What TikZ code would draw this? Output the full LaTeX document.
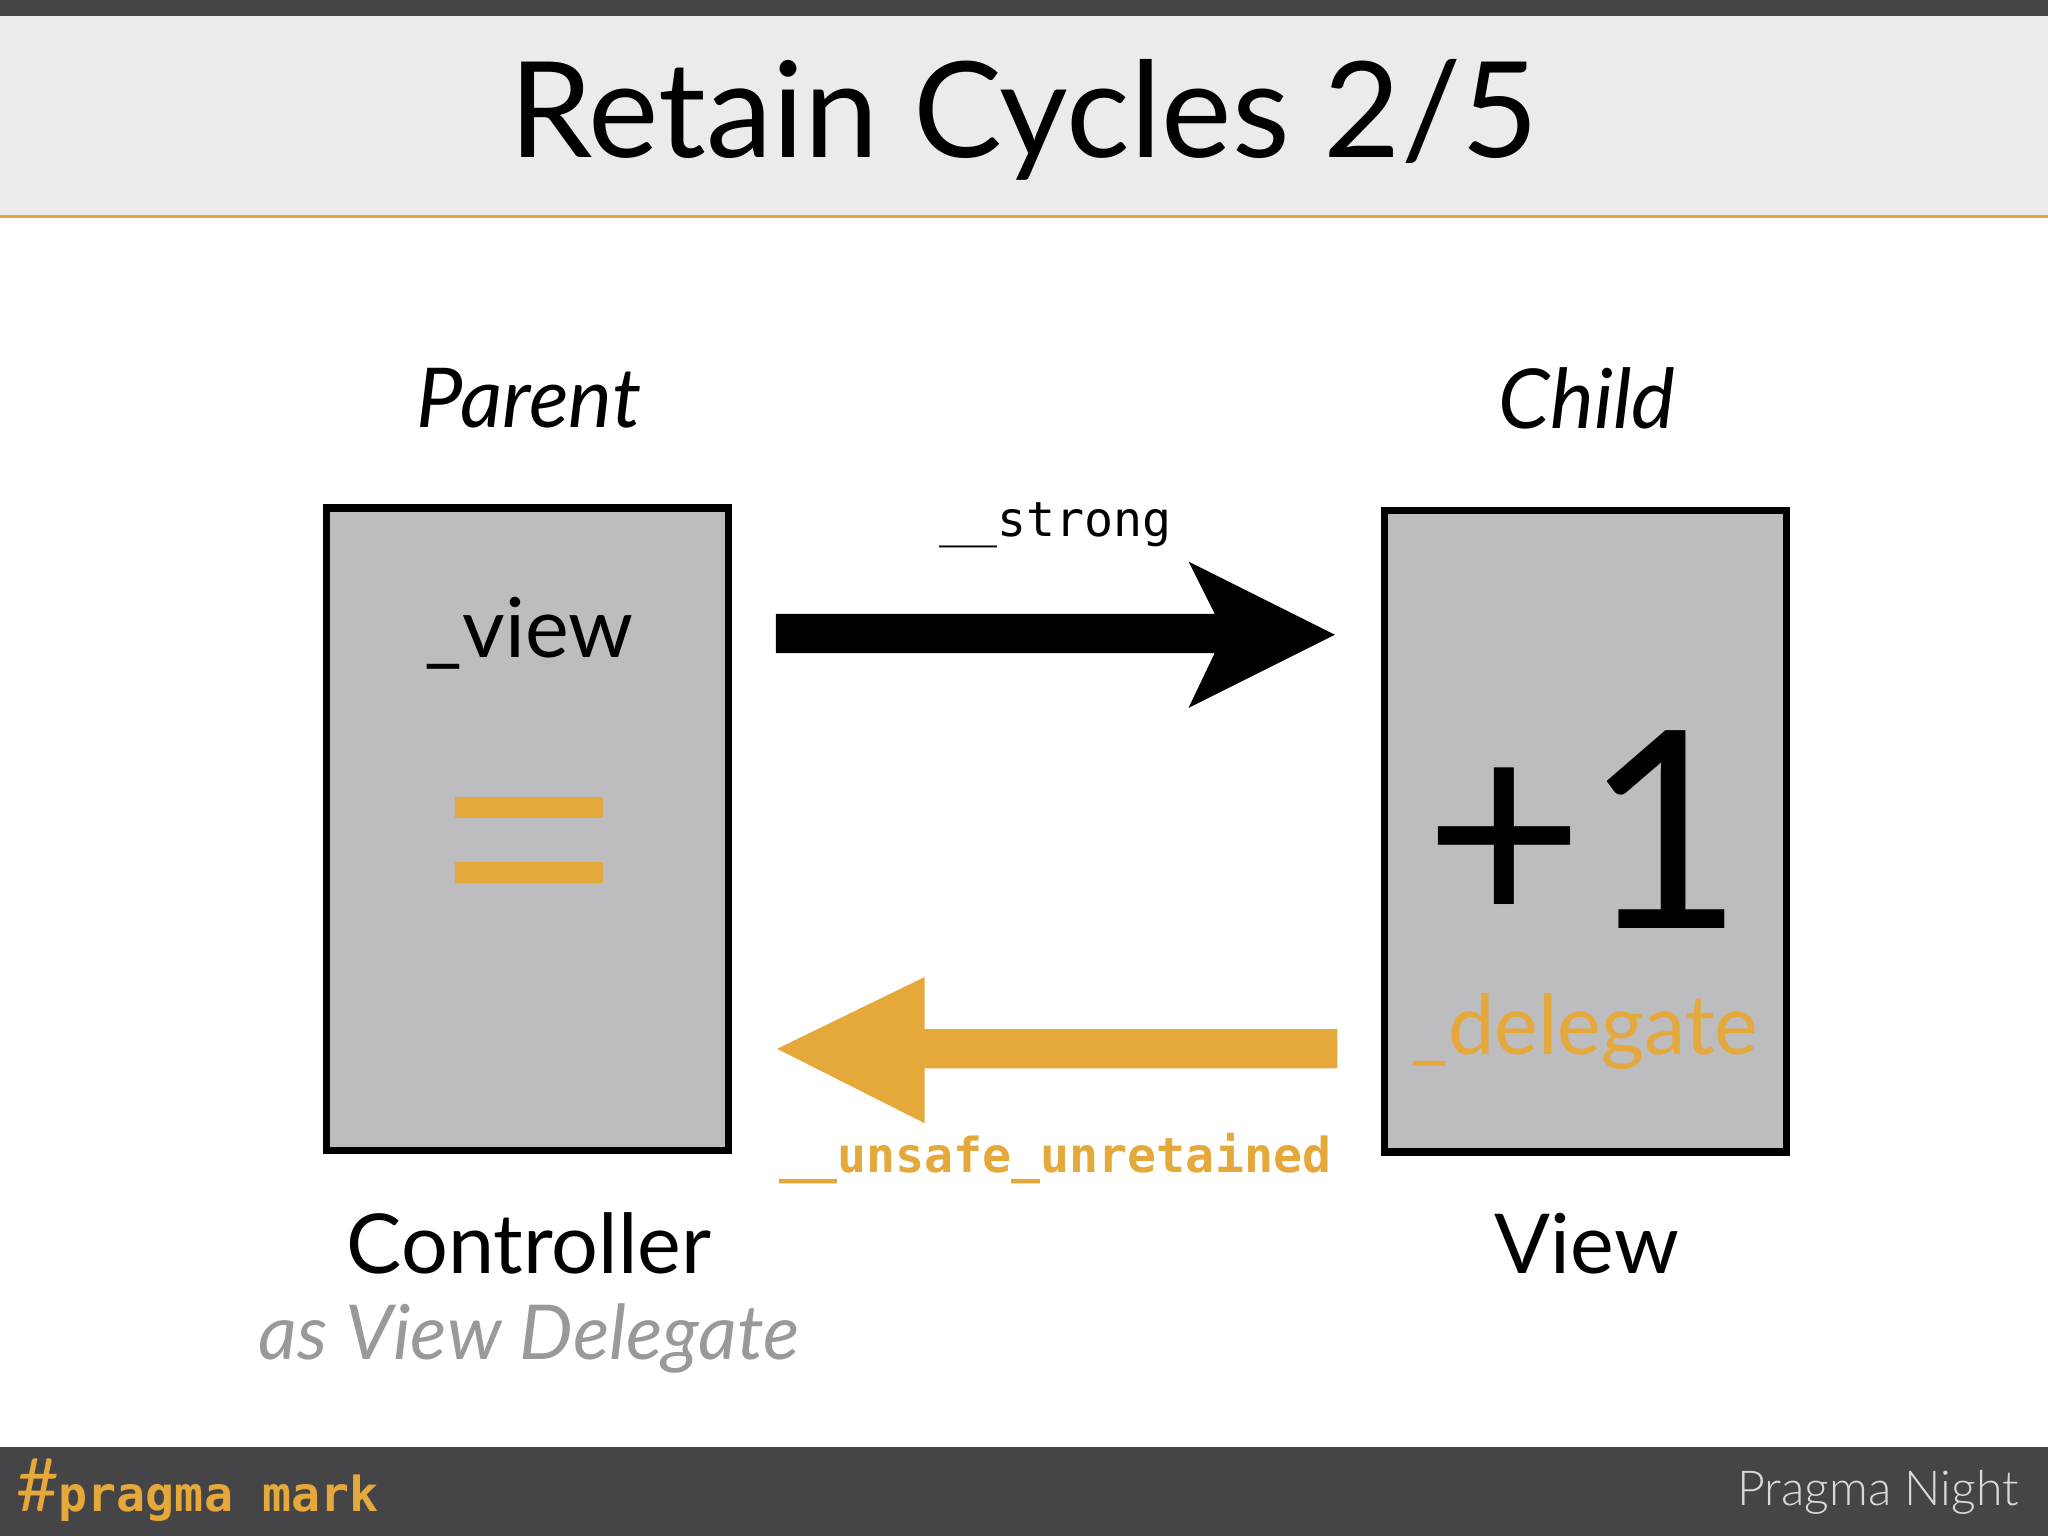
\documentclass[tikz,border=0pt]{standalone}
\usepackage{fontspec}
\setmainfont{Lato}
\setmonofont{DejaVu Sans Mono}
\definecolor{og}{HTML}{E5A83A}
\definecolor{boxg}{HTML}{BDBCBF}
\definecolor{darkbar}{HTML}{454547}
\begin{document}
\begin{tikzpicture}[x=0.01cm,y=-0.01cm,
  obj/.style={draw=black,line width=1.6pt,fill=boxg},
  lbl/.style={font=\fontsize{18}{22}\selectfont}]
\useasboundingbox (0,0) rectangle (1568,1176);
\fill[darkbar] (0,0) rectangle (1568,12);
\fill[black!8] (0,12) rectangle (1568,165);
\draw[og,line width=0.7pt] (0,166) -- (1568,166);
\fill[darkbar] (0,1108) rectangle (1568,1176);
\node (title) at (784,92) {\fontsize{29}{34}\selectfont Retain Cycles 2/5};
% boxes
\draw[obj] (250,389) rectangle (558,881);
\draw[obj] (1060,391) rectangle (1368,882);
% equals
\fill[og] (348,610) rectangle (462,626);
\fill[og] (348,660) rectangle (462,676);
% arrows
\fill[black] (594,470) -- (930,470) -- (910,430) -- (1022,486) -- (910,542) -- (930,500) -- (594,500) -- cycle;
\fill[og] (595,803) -- (708,748) -- (708,788) -- (1024,788) -- (1024,818) -- (708,818) -- (708,860) -- cycle;
% texts
\node[lbl] (view) at (405,485) {\_view};
\node (plus) at (1213,635) {\fontsize{60}{68}\selectfont +1};
\node[lbl,text=og] (deleg) at (1213,790) {\_delegate};
\node[lbl] (parent) at (405,305) {\itshape Parent};
\node[lbl] (child) at (1215,305) {\itshape Child};
\node[lbl] (ctrl) at (405,952) {Controller};
\node[text=black!40] (asvd) at (405,1025) {\fontsize{16.5}{20}\selectfont\itshape as View Delegate};
\node[lbl] (vw) at (1215,952) {View};
\node (strong) at (808,402) {\fontsize{10.5}{13}\selectfont\ttfamily \_\_strong};
\node[text=og] (unsafe) at (808,887) {\fontsize{10.5}{13}\selectfont\ttfamily\bfseries \_\_unsafe\_unretained};
\node[text=og,anchor=west] (pm) at (0,1141) {\fontsize{16}{18}\selectfont\#\fontsize{10.5}{12}\selectfont\ttfamily\bfseries pragma mark};
\node[text=white!85!black,anchor=east] (pn) at (1558,1143) {\fontsize{10.5}{13}\selectfont\fontspec{Lato Light}Pragma Night};
\end{tikzpicture}
\end{document}
